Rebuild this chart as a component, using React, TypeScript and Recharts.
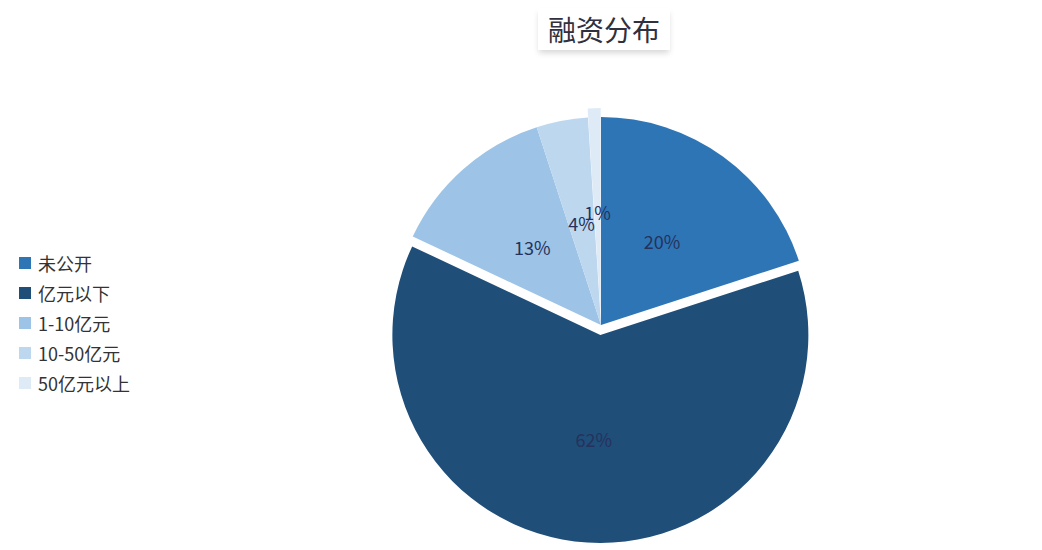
import { PieChart, Pie, Cell, Sector } from 'recharts';

const categories = ['未公开', '亿元以下', '1-10亿元', '10-50亿元', '50亿元以上'];
const shares = [20, 62, 13, 4, 1];

const colors = ['#2e75b6', '#1f4e79', '#9dc3e6', '#bdd7ee', '#deebf7'];
// how far each slice is pulled out of the pie, in px
const explode = [0, 10, 0, 0, 9];

const RAD = Math.PI / 180;
const FONT = '"Noto Sans CJK SC", "Noto Sans", sans-serif';

const chartData = categories.map((name, i) => ({ name, value: shares[i] }));

const offsetOf = (midAngle: number, d: number) => ({
  dx: Math.cos(-midAngle * RAD) * d,
  dy: Math.sin(-midAngle * RAD) * d
});

function ExplodedSector(props: any) {
  const idx = categories.indexOf(props.payload?.name ?? props.name);
  const { dx, dy } = offsetOf(props.midAngle, explode[idx] || 0);
  return <Sector {...props} cx={props.cx + dx} cy={props.cy + dy} stroke="none" />;
}

function renderLabel(props: any) {
  const { cx, cy, midAngle, outerRadius, index, percent } = props;
  const { dx, dy } = offsetOf(midAngle, outerRadius * 0.5 + (explode[index] || 0));
  return (
    <text
      x={cx + dx}
      y={cy + dy}
      fill="#25325c"
      fontSize={18}
      fontFamily={FONT}
      textAnchor="middle"
      dominantBaseline="central"
    >
      {`${Math.round(percent * 100)}%`}
    </text>
  );
}

function LegendList() {
  return (
    <ul style={{ position: 'absolute', left: 19, top: 248, listStyle: 'none', margin: 0, padding: 0, zIndex: 2 }}>
      {categories.map((name, i) => (
        <li
          key={name}
          style={{ display: 'flex', alignItems: 'center', height: 30, fontFamily: FONT, fontSize: 18, color: '#333' }}
        >
          <span style={{ display: 'inline-block', width: 12, height: 12, background: colors[i], marginRight: 7 }} />
          {name}
        </li>
      ))}
    </ul>
  );
}

export default function App() {
  return (
    <div style={{ position: 'absolute', left: 0, top: 0, width: 1042, height: 550, background: '#fff' }}>
      <div
        style={{
          position: 'absolute',
          left: 538,
          top: 8,
          width: 132,
          height: 42,
          lineHeight: '42px',
          textAlign: 'center',
          fontFamily: FONT,
          fontSize: 28,
          color: '#30303f',
          background: '#fff',
          boxShadow: '0 4px 6px -1px rgba(0,0,0,0.16)',
          zIndex: 2
        }}
      >
        融资分布
      </div>
      <LegendList />
      <PieChart width={1042} height={550} margin={{ top: 0, right: 0, bottom: 0, left: 0 }}>
        <Pie
          data={chartData}
          dataKey="value"
          nameKey="name"
          cx={601}
          cy={325}
          outerRadius={208}
          startAngle={90}
          endAngle={-270}
          stroke="none"
          shape={ExplodedSector}
          label={renderLabel}
          labelLine={false}
          isAnimationActive={false}
        >
          {chartData.map((d, i) => (
            <Cell key={d.name} fill={colors[i]} />
          ))}
        </Pie>
      </PieChart>
    </div>
  );
}
